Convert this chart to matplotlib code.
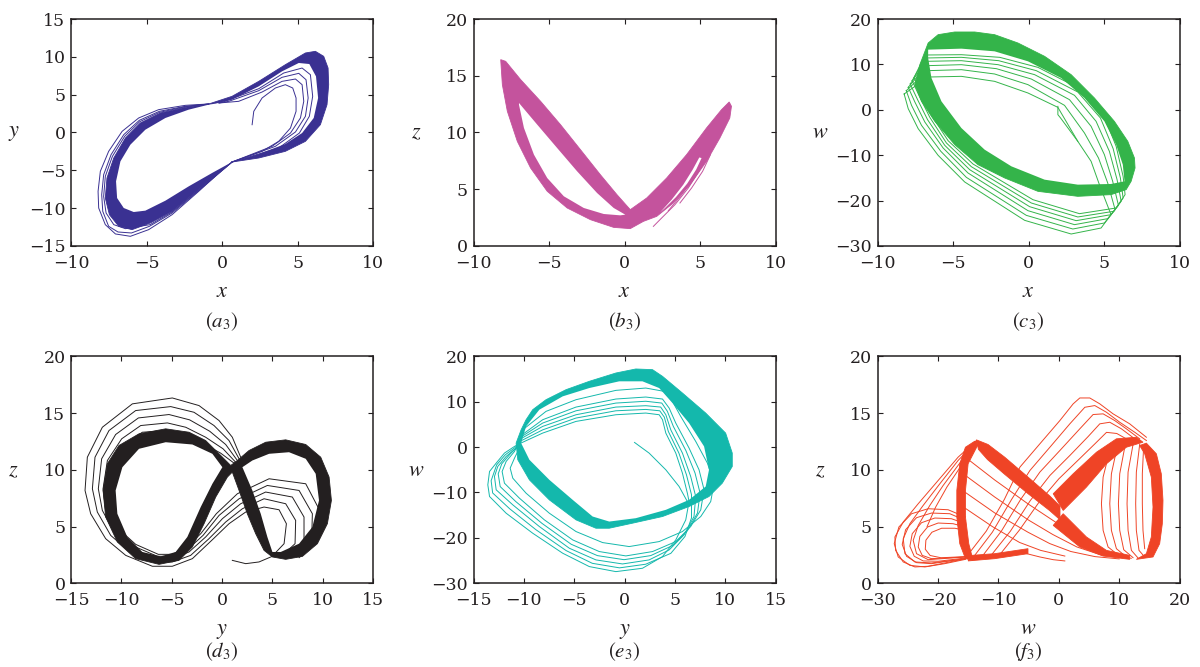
import matplotlib
matplotlib.use("Agg")
import matplotlib.pyplot as plt

plt.rcParams["font.family"] = ["DejaVu Serif"]
plt.rcParams["mathtext.fontset"] = "stix"

TXT = "#231f20"

# ---------------- (a3): x-y plane ----------------
a_band = [(-0.88, 3.77), (-2.43, 3.33), (-4.08, 2.58), (-5.41, 1.26), (-6.40, -0.73), (-7.17, -3.37),
          (-7.62, -6.01), (-7.73, -8.66), (-7.46, -10.86), (-6.84, -12.40), (-5.96, -12.84), (-4.75, -11.96),
          (-3.31, -10.42), (-1.55, -7.55), (-0.22, -5.35), (0.66, -3.90), (2.43, -3.37), (4.19, -2.49),
          (5.52, -1.17), (6.51, 1.03), (6.95, 3.68), (7.06, 6.32), (7.02, 8.52), (6.73, 10.07), (6.18, 10.73),
          (5.52, 10.51), (4.19, 8.96), (2.43, 6.76), (0.66, 4.78)]
a_hole = [(-0.88, 3.68), (-2.21, 3.02), (-3.75, 1.92), (-5.08, 0.37), (-6.07, -1.61), (-6.73, -3.81),
          (-7.02, -6.45), (-6.95, -8.66), (-6.51, -9.98), (-5.85, -10.51), (-5.08, -10.33), (-3.75, -9.01),
          (-2.21, -7.12), (-0.66, -5.35), (0.66, -3.90), (2.43, -2.84), (4.19, -1.52), (5.30, -0.07),
          (6.07, 1.92), (6.36, 4.56), (6.22, 7.42), (5.78, 9.05), (5.08, 9.19), (3.97, 8.08), (2.43, 6.10),
          (0.66, 4.34), (-0.44, 3.81)]
a_start = [(1.99, 1.03), (2.10, 2.80), (2.65, 4.56), (3.53, 5.88), (4.19, 6.32), (4.68, 5.88), (4.90, 4.56),
           (4.90, 2.80), (4.53, 0.59), (3.75, -1.17), (2.65, -2.49), (0.66, -3.90)]
a_arc1 = [(-0.20, 3.90), (1.10, 4.12), (2.65, 5.35), (3.97, 6.76), (4.86, 7.07), (5.30, 6.32), (5.41, 4.12),
          (5.19, 1.92), (4.53, -0.07), (3.31, -1.83), (0.66, -3.90)]
a_arc2 = [(-0.20, 3.90), (0.44, 4.12), (2.43, 5.53), (3.97, 7.29), (5.08, 7.82), (5.56, 6.98), (5.70, 4.56),
          (5.52, 2.14), (4.86, 0.07), (3.53, -1.83), (0.66, -3.90)]
a_arc3 = [(-0.20, 3.95), (0.00, 3.99), (2.43, 5.79), (4.08, 7.86), (5.30, 8.52), (5.85, 7.64), (6.00, 4.78),
          (5.78, 2.14), (5.12, -0.07), (3.75, -2.05), (0.66, -3.90)]
a_lo1 = [(-0.88, 3.77), (-2.43, 3.59), (-4.20, 3.02), (-5.52, 1.92), (-6.62, 0.15), (-7.51, -2.49),
         (-8.06, -5.13), (-8.21, -7.78), (-8.17, -9.98), (-7.73, -12.18), (-7.06, -13.41), (-6.07, -13.72),
         (-4.86, -12.84), (-3.31, -10.86), (-1.55, -7.78), (-0.22, -5.35), (0.66, -3.90)]
a_lo2 = [(-0.88, 3.77), (-2.43, 3.46), (-4.15, 2.80), (-5.48, 1.61), (-6.51, -0.29), (-7.35, -2.93),
         (-7.84, -5.57), (-7.97, -8.22), (-7.90, -10.42), (-7.51, -12.40), (-6.89, -13.15), (-6.00, -13.28),
         (-4.81, -12.40), (-3.31, -10.64), (-1.55, -7.69), (0.66, -3.90)]
a_lo3 = [(-0.88, 3.77), (-2.43, 3.41), (-4.13, 2.67), (-5.45, 1.43), (-6.45, -0.51), (-7.26, -3.15),
         (-7.73, -5.79), (-7.84, -8.44), (-7.68, -10.64), (-7.17, -12.18), (-6.40, -12.71), (-4.77, -12.18),
         (-3.31, -10.50), (-1.55, -7.60), (0.66, -3.90)]

# ---------------- (b3): x-z plane ----------------
b_band = [(-8.20, 16.42), (-7.87, 16.27), (-6.88, 14.66), (-5.56, 12.75), (-4.24, 10.69), (-2.92, 8.49),
          (-1.60, 6.28), (-0.50, 4.52), (0.38, 3.20), (1.47, 4.23), (2.79, 5.99), (4.11, 8.05), (5.43, 10.40),
          (6.42, 12.01), (6.93, 12.69), (7.08, 12.31), (6.97, 11.28), (6.31, 9.51), (5.43, 7.46), (4.33, 5.40),
          (3.23, 3.79), (2.13, 2.61), (1.25, 2.17), (0.38, 1.53), (-0.72, 1.64), (-2.26, 2.32), (-3.80, 3.35),
          (-5.12, 4.82), (-6.22, 6.87), (-7.10, 9.22), (-7.76, 11.87), (-8.09, 14.21)]
b_hole = [(-6.99, 12.60), (-5.78, 10.69), (-4.46, 8.63), (-3.14, 6.58), (-1.82, 4.67), (-0.72, 3.35),
          (0.05, 2.76), (-0.28, 2.70), (-1.38, 2.82), (-2.70, 3.35), (-4.02, 4.38), (-5.12, 5.99),
          (-6.00, 8.05), (-6.66, 10.40), (-6.99, 12.45)]
b_gap = [(2.35, 2.95), (3.12, 4.08), (3.89, 5.40), (4.50, 6.70), (4.95, 7.80), (5.10, 7.75), (4.75, 6.75),
         (4.15, 5.50), (3.40, 4.30), (2.68, 3.35)]
b_t1 = [(1.91, 1.73), (2.46, 2.47), (3.34, 3.64), (4.22, 5.11), (4.99, 6.72), (5.54, 8.19), (5.95, 9.60)]
b_t2 = [(2.90, 3.11), (3.78, 4.52), (4.66, 6.14), (5.39, 7.75), (5.87, 9.08), (6.10, 10.00)]
b_t3 = [(3.67, 3.79), (4.44, 5.11), (5.17, 6.58), (5.69, 8.05)]

# ---------------- (c3): x-w plane ----------------
c_band = [(-6.65, 14.71), (-5.99, 16.55), (-4.89, 17.14), (-3.57, 17.14), (-2.25, 16.55), (-0.70, 14.71),
          (1.06, 11.78), (2.82, 7.74), (4.36, 2.60), (5.68, -2.54), (6.57, -6.95), (7.01, -10.62),
          (7.05, -12.82), (6.79, -15.76), (6.46, -17.59), (5.46, -18.69), (3.26, -19.06), (0.62, -17.96),
          (-1.58, -15.02), (-3.35, -12.09), (-4.89, -7.68), (-6.21, -2.54), (-7.09, 1.86), (-7.53, 5.54),
          (-7.20, 9.94)]
c_hole = [(-6.65, 13.25), (-4.45, 13.47), (-2.25, 12.88), (-0.04, 10.68), (2.16, 7.00), (3.70, 2.60),
          (5.02, -2.54), (5.80, -7.68), (6.24, -12.09), (6.35, -15.76), (5.46, -16.34), (3.26, -16.49),
          (1.06, -15.39), (-1.14, -12.45), (-2.91, -8.78), (-4.45, -4.01), (-5.77, 1.86), (-6.43, 7.00),
          (-6.65, 11.41)]
c_start = [(1.94, 0.76), (1.94, -1.07), (2.12, -1.81), (3.26, -6.95)]
c_l1 = [(-8.24, 3.48), (-6.65, 7.22), (-4.45, 7.37), (-2.25, 6.27), (-0.04, 3.70), (1.94, 0.54), (3.26, -6.95),
        (4.14, -11.35), (4.69, -16.49), (5.46, -23.10), (4.80, -26.04), (2.82, -27.36), (-0.26, -24.35),
        (-4.23, -15.90), (-5.99, -10.03), (-7.31, -4.16), (-7.97, 0.25), (-8.24, 3.48)]
c_l2 = [(-8.10, 4.21), (-6.69, 8.62), (-4.45, 8.84), (-2.25, 7.89), (-0.04, 5.54), (2.38, 0.98), (3.70, -5.11),
        (4.63, -10.62), (5.24, -16.12), (5.73, -22.00), (5.02, -24.93), (2.93, -26.26), (-0.15, -23.25),
        (-4.12, -14.88), (-5.81, -9.15), (-7.09, -3.42), (-7.75, 0.98), (-8.10, 4.21)]
c_l3 = [(-7.97, 4.95), (-6.74, 9.72), (-4.45, 9.94), (-2.13, 9.06), (0.18, 6.78), (2.71, 2.23), (4.14, -3.64),
        (5.02, -9.88), (5.57, -15.76), (5.95, -21.04), (5.24, -23.98), (3.04, -25.30), (-0.04, -22.22),
        (-4.01, -13.92), (-5.66, -8.41), (-6.87, -2.69), (-7.53, 1.72), (-7.97, 4.95)]
c_l4 = [(-7.84, 5.68), (-6.78, 10.68), (-4.45, 10.82), (-2.02, 9.94), (0.40, 7.74), (3.04, 3.19), (4.47, -2.54),
        (5.35, -9.15), (5.86, -15.39), (6.13, -20.16), (5.46, -23.10), (3.15, -24.42), (0.07, -21.34),
        (-3.90, -13.19), (-5.55, -7.83), (-6.69, -2.17), (-7.35, 2.23), (-7.84, 5.68)]
c_l5 = [(-7.71, 6.42), (-6.83, 11.41), (-4.45, 11.56), (-1.98, 10.82), (0.51, 8.62), (3.26, 3.92), (4.76, -1.81),
        (5.60, -8.56), (6.08, -15.02), (6.26, -19.43), (5.64, -22.36), (3.26, -23.61), (0.18, -20.53),
        (-3.79, -12.53), (-5.44, -7.31), (-6.54, -1.66), (-7.20, 2.75), (-7.71, 6.42)]
c_l6 = [(-7.58, 7.15), (-6.85, 12.07), (-4.45, 12.14), (-1.91, 11.56), (0.62, 9.35), (3.44, 4.58), (4.98, -1.22),
        (5.80, -8.05), (6.26, -14.66), (6.39, -18.69), (5.80, -21.63), (3.37, -22.88), (0.29, -19.80),
        (-3.68, -11.94), (-5.33, -6.80), (-6.43, -1.22), (-7.09, 3.19), (-7.58, 7.15)]

# ---------------- (d3): y-z plane ----------------
d_band = [(-5.60, 13.61), (-8.25, 13.17), (-10.24, 12.14), (-11.39, 10.53), (-11.82, 8.18), (-11.56, 5.84),
          (-10.40, 3.64), (-8.58, 2.17), (-6.26, 1.67), (-4.28, 2.02), (-2.95, 3.20), (-1.79, 5.25),
          (-0.63, 7.60), (0.53, 9.36), (1.02, 9.80), (1.69, 8.18), (2.51, 6.13), (3.34, 4.37), (4.17, 2.90),
          (5.00, 2.32), (6.32, 2.11), (7.98, 2.37), (9.47, 3.49), (10.46, 5.25), (10.86, 7.30), (10.63, 9.36),
          (9.80, 11.11), (8.31, 12.23), (6.32, 12.64), (4.34, 12.43), (2.68, 11.70), (1.52, 10.82),
          (0.86, 10.38), (-0.30, 11.41), (-1.63, 12.58), (-3.28, 13.31)]
d_hole_l = [(-5.60, 12.43), (-8.25, 11.85), (-9.90, 10.23), (-10.57, 8.18), (-10.40, 6.13), (-9.41, 4.08),
            (-7.92, 2.76), (-6.10, 2.37), (-4.61, 2.76), (-3.45, 4.08), (-2.12, 6.72), (-0.96, 8.77),
            (0.03, 10.23), (-0.96, 11.41), (-2.95, 12.23)]
d_hole_r = [(2.02, 10.23), (3.01, 8.18), (3.84, 6.13), (4.50, 4.08), (5.00, 2.76), (5.83, 2.76), (7.65, 3.49),
            (8.97, 4.96), (9.63, 7.30), (9.30, 9.65), (8.31, 10.97), (6.65, 11.55), (4.67, 11.41), (3.01, 10.82)]
d_l1 = [(1.85, 11.11), (1.02, 12.87), (-0.30, 14.34), (-2.29, 15.66), (-4.94, 16.33), (-8.91, 15.81),
        (-11.89, 13.75), (-13.38, 11.11), (-13.61, 8.18), (-13.05, 6.13), (-11.56, 3.93), (-9.57, 2.46),
        (-6.92, 1.50), (-4.94, 1.50), (-2.95, 2.17), (-0.96, 3.84), (0.69, 5.25), (2.35, 6.28), (4.17, 6.72),
        (5.66, 6.48), (6.39, 5.25), (6.16, 3.49), (5.06, 2.46)]
d_l2 = [(1.69, 10.97), (0.69, 12.58), (-0.80, 13.90), (-2.79, 15.07), (-5.10, 15.57), (-8.58, 15.22),
        (-11.23, 13.46), (-12.62, 11.11), (-12.88, 8.33), (-12.39, 6.28), (-11.06, 4.22), (-9.18, 2.76),
        (-6.76, 1.88), (-4.94, 1.88), (-3.12, 2.46), (-1.30, 3.93), (0.36, 5.40), (2.02, 6.57), (4.17, 7.45),
        (6.32, 7.01), (7.31, 5.54), (7.25, 3.49), (5.82, 2.32)]
d_l3 = [(1.52, 10.82), (0.36, 12.23), (-1.23, 13.40), (-3.22, 14.40), (-5.27, 14.87), (-8.31, 14.57),
        (-10.57, 13.11), (-11.96, 10.97), (-12.29, 8.33), (-11.89, 6.42), (-10.73, 4.52), (-8.91, 3.05),
        (-6.59, 2.17), (-4.94, 2.17), (-3.28, 2.76), (-1.63, 4.08), (0.03, 5.69), (1.85, 7.01), (4.33, 8.04),
        (6.98, 7.60), (8.14, 5.84), (8.14, 3.49), (6.59, 2.32)]
d_l4 = [(1.35, 10.67), (0.10, 11.85), (-1.63, 12.87), (-3.61, 13.75), (-5.43, 14.13), (-8.08, 13.90),
        (-9.97, 12.73), (-11.39, 10.82), (-11.82, 8.33), (-11.56, 6.42), (-10.50, 4.66), (-8.75, 3.26),
        (-6.43, 2.38), (-4.94, 2.38), (-3.45, 2.96), (-1.89, 4.22), (-0.30, 5.98), (1.69, 7.45), (4.50, 8.62),
        (7.65, 8.18), (8.97, 6.13), (8.90, 3.78), (7.15, 2.32)]
d_l5 = [(1.19, 10.59), (-0.14, 11.47), (-1.96, 12.35), (-3.94, 13.11), (-5.53, 13.46), (-7.92, 13.31),
        (-9.57, 12.29), (-10.96, 10.59), (-11.56, 8.24), (-11.30, 6.48), (-10.30, 4.81), (-8.58, 3.43),
        (-6.33, 2.55), (-4.94, 2.55), (-3.55, 3.14), (-2.12, 4.37), (-0.57, 6.13), (1.52, 7.89), (4.67, 9.21),
        (8.31, 8.77), (9.70, 6.42), (9.63, 3.93), (7.65, 2.26)]
d_start = [(1.02, 2.02), (2.35, 1.73), (3.67, 1.88), (5.00, 2.38)]

# ---------------- (e3): y-w plane ----------------
e_band = [(-10.27, 3.82), (-9.78, 6.03), (-9.12, 8.24), (-7.80, 10.44), (-5.81, 12.65), (-3.50, 14.49),
          (-0.86, 16.32), (1.12, 17.21), (2.78, 17.06), (3.77, 15.59), (5.75, 11.91), (8.06, 7.50),
          (10.04, 3.09), (10.70, -1.32), (10.70, -4.26), (9.71, -7.94), (8.39, -10.88), (6.41, -13.09),
          (3.77, -15.29), (0.79, -16.76), (-1.52, -17.87), (-2.84, -17.87), (-4.82, -16.03), (-7.47, -11.62),
          (-9.45, -7.21), (-10.60, -2.79), (-10.77, 0.88)]
e_hole = [(-10.27, 0.88), (-9.45, -2.79), (-7.47, -7.21), (-5.15, -11.62), (-3.17, -15.29), (-1.52, -16.40),
          (1.12, -15.66), (4.10, -13.82), (6.41, -11.62), (8.06, -8.68), (8.39, -5.00), (7.90, 0.15),
          (6.41, 5.29), (4.76, 9.71), (3.44, 13.01), (1.78, 14.49), (-0.53, 14.49), (-3.50, 13.01),
          (-6.14, 11.18), (-8.46, 8.24), (-9.78, 4.56)]
e_start = [(0.99, 1.03), (2.44, -1.32), (4.10, -5.00), (5.42, -8.68), (6.24, -11.99)]
e_l1 = [(-10.44, 0.74), (-8.13, 3.09), (-4.82, 5.66), (-0.86, 7.13), (2.11, 7.50), (3.44, 7.13), (3.77, 6.03),
        (4.10, 3.09), (5.09, -1.32), (5.75, -5.74), (6.24, -10.15), (6.41, -11.99), (6.08, -16.03),
        (5.09, -20.44), (3.77, -24.12), (1.78, -26.69), (-0.86, -27.43), (-3.50, -26.32), (-6.14, -23.38),
        (-9.12, -18.97), (-11.76, -14.56), (-13.41, -10.88), (-13.58, -8.31), (-13.41, -5.37), (-12.75, -3.53),
        (-11.93, -1.32), (-10.93, 0.15), (-10.44, 0.74)]
e_l1b = [(-10.40, 1.25), (-8.13, 3.80), (-4.82, 6.40), (-0.86, 8.00), (2.11, 8.30), (3.50, 8.00), (3.95, 6.60),
         (4.35, 3.45), (5.40, -1.32), (6.15, -6.10), (6.65, -10.50), (6.65, -15.60), (6.00, -19.70),
         (4.60, -23.40), (2.10, -25.80), (-0.50, -26.60), (-3.20, -25.60), (-5.80, -22.80), (-8.80, -18.20),
         (-11.40, -13.60), (-13.10, -10.10), (-13.25, -7.40), (-12.70, -3.90), (-11.85, -1.70), (-10.85, -0.05),
         (-10.40, 1.25)]
e_l2 = [(-10.37, 1.76), (-8.13, 4.56), (-4.82, 7.13), (-0.86, 8.82), (2.11, 9.12), (3.59, 8.82), (4.10, 7.13),
        (4.59, 3.82), (5.75, -1.32), (6.57, -6.47), (7.07, -10.88), (6.90, -15.29), (5.91, -19.34),
        (4.43, -22.65), (2.44, -24.85), (-0.20, -25.74), (-2.84, -24.85), (-5.48, -22.28), (-8.46, -17.50),
        (-11.10, -12.72), (-12.75, -9.41), (-12.92, -6.47), (-12.59, -4.26), (-11.76, -2.06), (-10.77, -0.22),
        (-10.37, 1.76)]
e_l2b = [(-10.27, 2.24), (-8.13, 5.30), (-4.82, 8.00), (-0.86, 9.70), (2.11, 10.10), (3.70, 9.70), (4.25, 7.90),
         (4.85, 4.55), (6.10, -0.80), (7.00, -5.70), (7.50, -10.10), (7.25, -14.50), (6.25, -18.40),
         (4.75, -21.70), (2.60, -23.90), (-0.05, -24.80), (-2.70, -23.90), (-5.30, -21.40), (-8.20, -16.80),
         (-10.80, -12.00), (-12.35, -8.70), (-12.55, -5.90), (-12.20, -3.70), (-11.35, -1.50), (-10.50, 0.40),
         (-10.27, 2.24)]
e_l3 = [(-10.17, 2.72), (-8.13, 6.03), (-4.82, 8.82), (-0.86, 10.59), (2.11, 11.03), (3.77, 10.59),
        (4.43, 8.60), (5.09, 5.29), (6.41, -0.22), (7.40, -5.00), (7.90, -9.41), (7.57, -13.82),
        (6.57, -17.50), (5.09, -20.81), (2.78, -23.01), (0.13, -23.97), (-2.51, -23.01), (-5.15, -20.44),
        (-7.96, -16.03), (-10.44, -11.25), (-11.93, -7.94), (-12.16, -5.37), (-11.76, -3.16), (-10.93, -0.96),
        (-10.17, 2.72)]
e_l4 = [(-10.11, 3.82), (-7.80, 7.87), (-4.82, 10.44), (-0.86, 12.50), (2.11, 13.01), (3.93, 12.28),
        (4.76, 10.07), (5.58, 6.76), (7.07, 1.25), (8.23, -3.53), (8.89, -7.94), (8.56, -11.99),
        (7.57, -15.29), (5.75, -18.60), (3.44, -20.81), (0.46, -21.91), (-2.18, -21.03), (-4.82, -18.60),
        (-7.47, -14.56), (-9.78, -10.15), (-11.10, -6.84), (-11.36, -4.63), (-10.93, -2.43), (-10.44, -0.22),
        (-10.11, 3.82)]

# ---------------- (f3): w-z plane ----------------
f_tip = [(-13.64, 12.64), (-11.71, 12.23), (-8.95, 11.11), (-5.10, 9.36), (-1.50, 7.70), (0.20, 6.80),
         (0.20, 5.60), (-1.50, 6.40), (-5.10, 7.90), (-8.95, 9.60), (-11.80, 10.90), (-13.30, 11.80)]
f_lr = [(0.73, 6.13), (4.58, 4.08), (7.89, 2.90), (11.74, 2.46), (11.74, 2.11), (7.34, 2.40), (3.48, 3.20),
        (-0.92, 5.10)]
f_ur = [(0.73, 6.42), (4.58, 8.48), (7.89, 10.53), (11.19, 11.99), (13.94, 12.43), (12.84, 12.87),
        (9.54, 12.73), (6.24, 11.55), (2.38, 9.65), (-0.92, 7.89)]
f_left = [(-13.91, 12.52), (-15.45, 11.99), (-16.39, 10.53), (-16.88, 8.18), (-16.88, 5.84), (-16.39, 3.49),
          (-15.45, 2.17), (-14.19, 2.02), (-14.90, 3.49), (-15.45, 5.84), (-15.45, 8.18), (-15.01, 10.53),
          (-13.36, 12.23)]
f_right = [(14.50, 12.35), (16.15, 11.41), (16.97, 9.65), (17.25, 7.30), (17.14, 5.25), (16.70, 3.49),
           (15.60, 2.32), (12.84, 2.11), (14.50, 2.61), (15.32, 4.08), (15.60, 6.72), (15.32, 9.36),
           (14.22, 11.41), (13.39, 12.14)]
f_bot = [(-14.46, 2.46), (-10.61, 2.61), (-5.10, 3.05), (-5.10, 2.61), (-10.61, 2.17), (-15.01, 1.97)]
f_fan1 = [(-13.64, 12.58), (-16.67, 11.11), (-19.97, 9.06), (-23.27, 7.01), (-25.75, 5.40), (-27.13, 4.08),
          (-27.02, 2.90), (-25.75, 1.88), (-23.82, 1.44), (-21.62, 1.50), (-18.87, 1.79), (-15.45, 2.17)]
f_fan2 = [(-13.64, 12.52), (-16.67, 10.82), (-19.69, 8.77), (-22.45, 6.86), (-24.65, 5.25), (-25.75, 3.93),
          (-25.47, 2.61), (-23.82, 1.88), (-21.07, 1.79), (-15.45, 2.17)]
f_fan3 = [(-13.64, 12.46), (-16.39, 10.59), (-19.14, 8.62), (-21.35, 6.86), (-23.27, 5.10), (-24.10, 3.78),
          (-23.55, 2.61), (-21.62, 2.08), (-15.45, 2.32)]
f_fan4 = [(-13.64, 12.40), (-16.10, 10.40), (-18.50, 8.50), (-20.40, 6.70), (-21.80, 5.00)]
f_el1 = [(-15.45, 5.84), (-18.32, 6.48), (-21.62, 6.57), (-24.37, 6.13), (-26.47, 4.96), (-27.24, 3.49),
         (-26.58, 2.32), (-24.65, 1.58), (-22.17, 1.44), (-18.87, 1.73), (-15.45, 2.11)]
f_el2 = [(-15.45, 5.54), (-18.04, 6.13), (-21.07, 6.19), (-23.55, 5.78), (-25.36, 4.72), (-25.92, 3.43),
         (-25.20, 2.38), (-23.55, 1.82), (-21.07, 1.73), (-15.45, 2.17)]
f_el3 = [(-15.45, 5.25), (-17.77, 5.69), (-20.52, 5.75), (-22.72, 5.34), (-24.26, 4.37), (-24.65, 3.26),
         (-23.93, 2.38), (-22.45, 1.97), (-19.97, 1.94), (-15.45, 2.23)]
f_el4 = [(-15.45, 4.96), (-17.49, 5.25), (-19.97, 5.31), (-21.73, 4.96), (-23.00, 4.13), (-23.27, 3.20),
         (-22.61, 2.46), (-21.07, 2.17), (-15.45, 2.32)]
f_el5 = [(-15.45, 4.66), (-17.20, 4.85), (-19.40, 4.85), (-21.00, 4.50), (-22.00, 3.80), (-22.10, 3.00),
         (-21.30, 2.45), (-19.50, 2.25), (-15.45, 2.35)]
f_dl1 = [(-15.45, 11.10), (-10.60, 9.10), (-5.10, 7.00), (0.00, 5.20), (4.50, 3.60), (8.00, 2.70), (12.00, 2.20)]
f_dl2 = [(-15.45, 9.50), (-10.60, 7.60), (-5.10, 5.60), (-1.00, 4.30), (3.00, 3.20), (7.00, 2.50), (11.50, 2.20)]
f_dl3 = [(-15.45, 8.00), (-10.60, 6.20), (-5.10, 4.50), (-1.50, 3.50), (2.00, 2.80), (6.00, 2.35), (10.00, 2.15)]
f_dl4 = [(-15.45, 6.60), (-11.00, 5.00), (-6.50, 3.60), (-3.00, 2.90), (1.00, 2.40)]
f_cap1 = [(-15.20, 2.40), (-12.00, 4.60), (-9.00, 7.40), (-6.43, 10.24), (-3.13, 12.29), (0.18, 14.34),
          (2.38, 15.81), (3.48, 16.33), (5.13, 16.33), (6.79, 15.81), (8.99, 14.93), (11.74, 14.05), (14.50, 12.87)]
f_cap2 = [(-14.00, 2.40), (-11.00, 4.50), (-7.80, 7.40), (-4.78, 9.94), (-1.47, 11.99), (1.83, 14.05),
          (4.31, 15.51), (5.96, 15.66), (7.89, 15.07), (10.09, 14.19), (12.57, 13.31), (14.50, 12.58)]
f_cap3 = [(-12.50, 2.50), (-9.50, 4.60), (-6.30, 7.40), (-3.13, 9.80), (0.18, 11.70), (3.48, 13.61),
          (5.68, 14.87), (7.34, 14.93), (9.26, 14.34), (11.19, 13.61), (13.39, 12.73)]
f_cap4 = [(-11.00, 2.60), (-8.00, 4.60), (-4.70, 7.30), (-1.47, 9.50), (1.83, 11.26), (4.86, 12.93),
          (6.79, 14.05), (8.44, 14.19), (10.37, 13.61), (12.57, 12.73)]
f_cap5 = [(-9.50, 2.70), (-6.50, 4.70), (-3.20, 7.20), (0.00, 9.20), (3.30, 10.90), (6.00, 12.30),
          (7.90, 13.30), (9.60, 13.20), (11.60, 12.60)]
f_ra1 = [(8.16, 11.11), (7.34, 9.36), (7.06, 7.01), (7.34, 4.66), (8.16, 3.20), (10.09, 2.38)]
f_ra2 = [(9.54, 11.70), (8.71, 9.65), (8.44, 7.01), (8.71, 4.66), (9.54, 3.05), (11.19, 2.32)]
f_ra3 = [(10.92, 11.99), (10.09, 9.65), (9.87, 7.01), (10.09, 4.66), (10.75, 2.96), (12.29, 2.26)]
f_ra4 = [(12.29, 12.23), (11.47, 9.80), (11.30, 7.01), (11.47, 4.66), (12.02, 2.90), (13.12, 2.23)]
f_ra5 = [(13.39, 12.23), (12.84, 9.80), (12.73, 7.01), (12.84, 4.66), (13.28, 2.90), (14.22, 2.32)]
f_ra6 = [(14.05, 12.06), (13.83, 9.65), (13.83, 7.01), (13.94, 4.66), (14.22, 3.05)]
f_start = [(1.00, 1.97), (-0.92, 2.08), (-3.13, 2.32), (-6.43, 2.76)]

colors = ["#3a3192", "#c4539d", "#34b44a", "#231f20", "#14b8ac", "#ef4426"]


def draw(ax, bands, holes, lines, color):
    for b in bands:
        bx, by = zip(*b)
        ax.fill(bx, by, color=color, lw=0.6)
    for h in holes:
        hx, hy = zip(*h)
        ax.fill(hx, hy, color="white", lw=0)
    for ln in lines:
        lx, ly = zip(*ln)
        ax.plot(lx, ly, color=color, lw=0.7)


panels = [
    ([a_band], [a_hole], [a_start, a_arc1, a_arc2, a_arc3, a_lo1, a_lo2, a_lo3],
     (-10, 10), (-15, 15), range(-10, 11, 5), range(-15, 16, 5), "x", "y", "a"),
    ([b_band], [b_hole, b_gap], [b_t1, b_t2, b_t3],
     (-10, 10), (0, 20), range(-10, 11, 5), range(0, 21, 5), "x", "z", "b"),
    ([c_band], [c_hole], [c_start, c_l1, c_l2, c_l3, c_l4, c_l5, c_l6],
     (-10, 10), (-30, 20), range(-10, 11, 5), range(-30, 21, 10), "x", "w", "c"),
    ([d_band], [d_hole_l, d_hole_r], [d_l1, d_l2, d_l3, d_l4, d_l5, d_start],
     (-15, 15), (0, 20), range(-15, 16, 5), range(0, 21, 5), "y", "z", "d"),
    ([e_band], [e_hole], [e_start, e_l1, e_l1b, e_l2, e_l2b, e_l3, e_l4],
     (-15, 15), (-30, 20), range(-15, 16, 5), range(-30, 21, 10), "y", "w", "e"),
    ([f_tip, f_lr, f_ur, f_left, f_right, f_bot], [],
     [f_fan1, f_fan2, f_fan3, f_fan4, f_el1, f_el2, f_el3, f_el4, f_el5, f_dl1, f_dl2, f_dl3, f_dl4,
      f_cap1, f_cap2, f_cap3, f_cap4, f_cap5, f_ra1, f_ra2, f_ra3, f_ra4, f_ra5, f_ra6, f_start],
     (-30, 20), (0, 20), range(-30, 21, 10), range(0, 21, 5), "w", "z", "f"),
]

lefts = [0.0592, 0.3946, 0.7313]
bottoms = [0.6312, 0.1255]
W, H = 0.2517, 0.3403

fig = plt.figure(figsize=(12, 6.67), dpi=100)

for i, (bands, holes, lines, xl, yl, xt, yt, xn, yn, tag) in enumerate(panels):
    row, col = divmod(i, 3)
    ax = fig.add_axes([lefts[col], bottoms[row], W, H])
    draw(ax, bands, holes, lines, colors[i])
    ax.set_xlim(*xl)
    ax.set_ylim(*yl)
    ax.set_xticks(list(xt))
    ax.set_yticks(list(yt))
    ax.tick_params(direction="in", top=True, right=True, length=3.5, width=0.8,
                   labelsize=12.5, colors=TXT, pad=6.5)
    ax.tick_params(axis="y", pad=4)
    for s in ax.spines.values():
        s.set_linewidth(1.1)
        s.set_color(TXT)
    ax.text(0.5, -0.225, "$" + xn + "$", transform=ax.transAxes, ha="center", va="baseline",
            fontsize=16, color=TXT)
    ax.text(-0.19, 0.5, "$" + yn + "$", transform=ax.transAxes, ha="center", va="center",
            fontsize=16, color=TXT)
    ty = -0.335 if row == 0 else -0.30
    ax.text(0.5, ty, "$(" + tag + "_3)$", transform=ax.transAxes, ha="center", va="center",
            fontsize=15, color=TXT)

fig.savefig("out.png", dpi=100)
